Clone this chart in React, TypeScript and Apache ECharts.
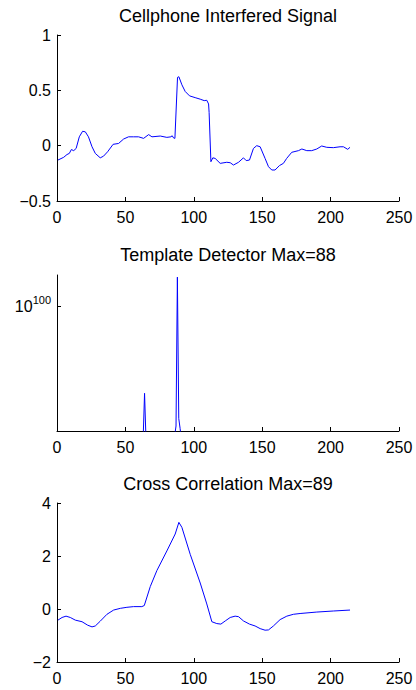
import React, { useEffect, useRef } from "react";
import * as echarts from "echarts";

const titles = ["Cellphone Interfered Signal", "Template Detector Max=88", "Cross Correlation Max=89"];

const xTicksMax = 250;

// Plot 1: Cellphone interfered signal
const sigX = [0.7, 4.9, 7.3, 9, 10.5, 12.2, 14, 16.3, 18.7, 20.7, 23, 25.6, 28, 31.6, 34, 37, 41, 45, 48.7, 52.3, 56, 59.6, 63.3, 67, 69.4, 75.5, 80.3, 83.3, 84.2, 85.2, 86.2, 88.1, 89.1, 91.3, 93.7, 96.9, 101, 104.7, 107.6, 109.5, 110.8, 111.2, 112.5, 113.9, 115.6, 119.3, 124.1, 126.6, 129, 132.7, 136.3, 138.3, 140.7, 143.6, 146, 148.5, 152.1, 154.6, 157, 159.4, 162.6, 165.5, 167.9, 171.6, 176.5, 179, 182.6, 186.2, 189.9, 193.5, 197.2, 202, 206.9, 209.4, 212.5, 214.2];
const sigY = [-0.13, -0.105, -0.08, -0.07, -0.035, -0.045, -0.025, 0.08, 0.13, 0.125, 0.08, -0.01, -0.07, -0.11, -0.095, -0.055, 0.012, 0.02, 0.06, 0.08, 0.08, 0.08, 0.066, 0.1, 0.08, 0.087, 0.075, 0.08, 0.09, 0.07, 0.066, 0.617, 0.623, 0.55, 0.49, 0.45, 0.434, 0.42, 0.407, 0.41, 0.377, 0.3, -0.145, -0.11, -0.115, -0.16, -0.15, -0.154, -0.175, -0.15, -0.11, -0.135, -0.13, -0.025, 0, -0.01, -0.115, -0.19, -0.22, -0.22, -0.18, -0.16, -0.115, -0.06, -0.045, -0.03, -0.045, -0.045, -0.03, -0.003, -0.015, -0.018, -0.01, -0.01, -0.033, -0.015];

// Plot 2: Template detector (log scale)
const detX = [1, 62, 63, 64, 65, 66, 85, 86, 87, 88, 89, 90, 91, 92, 215];
const detY = [1e-30, 1e-30, 1e-5, 1.6e30, 1e-5, 1e-30, 1e-30, 1e-4, 1e4, 2e123, 1e10, 1e2, 1e-8, 1e-30, 1e-30];

// Plot 3: Cross correlation
const ccX = [0.7, 3.7, 6.6, 9.7, 13.4, 18.3, 22.4, 25.6, 28, 31.6, 36.5, 41.4, 46.3, 51.1, 56, 62, 63.8, 68.2, 73, 80.3, 86.4, 89.1, 91.3, 97.4, 104.7, 109.5, 113.2, 116.8, 119.8, 123, 126.6, 130.2, 132.7, 136.3, 140.7, 144.8, 148.5, 152.1, 154.6, 158.2, 163.1, 168, 172.8, 177.7, 189.9, 202, 214.2];
const ccY = [-0.42, -0.32, -0.27, -0.32, -0.42, -0.48, -0.61, -0.675, -0.64, -0.46, -0.2, -0.04, 0.025, 0.064, 0.09, 0.09, 0.13, 0.85, 1.45, 2.19, 2.83, 3.27, 3.08, 2.06, 0.98, 0.19, -0.48, -0.55, -0.57, -0.45, -0.32, -0.27, -0.29, -0.45, -0.57, -0.64, -0.74, -0.8, -0.79, -0.64, -0.4, -0.27, -0.2, -0.17, -0.115, -0.076, -0.04];

const FONT = "'Liberation Sans', Arial, Helvetica, sans-serif";

const pairs = (xs: number[], ys: number[]) => xs.map((x, i) => [x, ys[i]]);

const minusFmt = (v: number) => String(v).replace("-", "\u2212");

export default function App() {
  const ref = useRef<HTMLDivElement>(null);
  useEffect(() => {
    if (!ref.current) return;
    const chart = echarts.init(ref.current, undefined, { renderer: "svg" });
    const grids = [
      { left: 57, right: 17, top: 35, height: 166 },
      { left: 57, right: 17, top: 275, height: 156 },
      { left: 57, right: 17, top: 503, height: 159 },
    ];
    const axisLine = { show: true, onZero: false, lineStyle: { color: "#000", width: 1 } };
    const axisTick = { show: true, inside: true, length: 4, lineStyle: { color: "#000" } };
    const labelBase = { color: "#000", fontSize: 16, fontFamily: FONT };
    const titleCenters = [15.5, 255, 484];
    const option: any = {
      animation: false,
      backgroundColor: "#fff",
      title: titles.map((t, i) => ({
        text: t,
        left: 228,
        top: titleCenters[i] - 9,
        textAlign: "center",
        padding: 0,
        textStyle: { fontSize: 18, fontWeight: "normal", color: "#000", fontFamily: FONT },
      })),
      grid: grids,
      xAxis: [0, 1, 2].map((i) => ({
        type: "value",
        gridIndex: i,
        min: 0,
        max: xTicksMax,
        interval: 50,
        axisLine,
        axisTick,
        splitLine: { show: false },
        axisLabel: { ...labelBase, margin: 8 },
      })),
      yAxis: [
        {
          type: "value",
          gridIndex: 0,
          min: -0.5,
          max: 1,
          interval: 0.5,
          axisLine,
          axisTick,
          splitLine: { show: false },
          axisLabel: { ...labelBase, margin: 6, formatter: minusFmt },
        },
        {
          type: "log",
          logBase: 10,
          gridIndex: 1,
          min: 1,
          max: 1e125,
          axisLine,
          axisTick: { ...axisTick, customValues: [1e100] },
          splitLine: { show: false },
          axisLabel: {
            ...labelBase,
            margin: 6,
            customValues: [1e100],
            formatter: () => "{a|10}{b|100}",
            rich: {
              a: { fontSize: 16, fontFamily: FONT, color: "#000" },
              b: { fontSize: 11, fontFamily: FONT, color: "#000", padding: [0, 0, 12, 0] },
            },
          },
        },
        {
          type: "value",
          gridIndex: 2,
          min: -2,
          max: 4,
          interval: 2,
          axisLine,
          axisTick,
          splitLine: { show: false },
          axisLabel: { ...labelBase, margin: 6, formatter: minusFmt },
        },
      ],
      series: [
        { type: "line", xAxisIndex: 0, yAxisIndex: 0, data: pairs(sigX, sigY) },
        { type: "line", xAxisIndex: 1, yAxisIndex: 1, data: pairs(detX, detY) },
        { type: "line", xAxisIndex: 2, yAxisIndex: 2, data: pairs(ccX, ccY) },
      ].map((s) => ({
        ...s,
        showSymbol: false,
        symbol: "none",
        clip: true,
        lineStyle: { color: "#0000ff", width: 1 },
      })),
    };
    chart.setOption(option);
    return () => chart.dispose();
  }, []);
  return (
    <div
      ref={ref}
      style={{ position: "fixed", left: 0, top: 0, width: 416, height: 690, background: "#fff" }}
    />
  );
}
